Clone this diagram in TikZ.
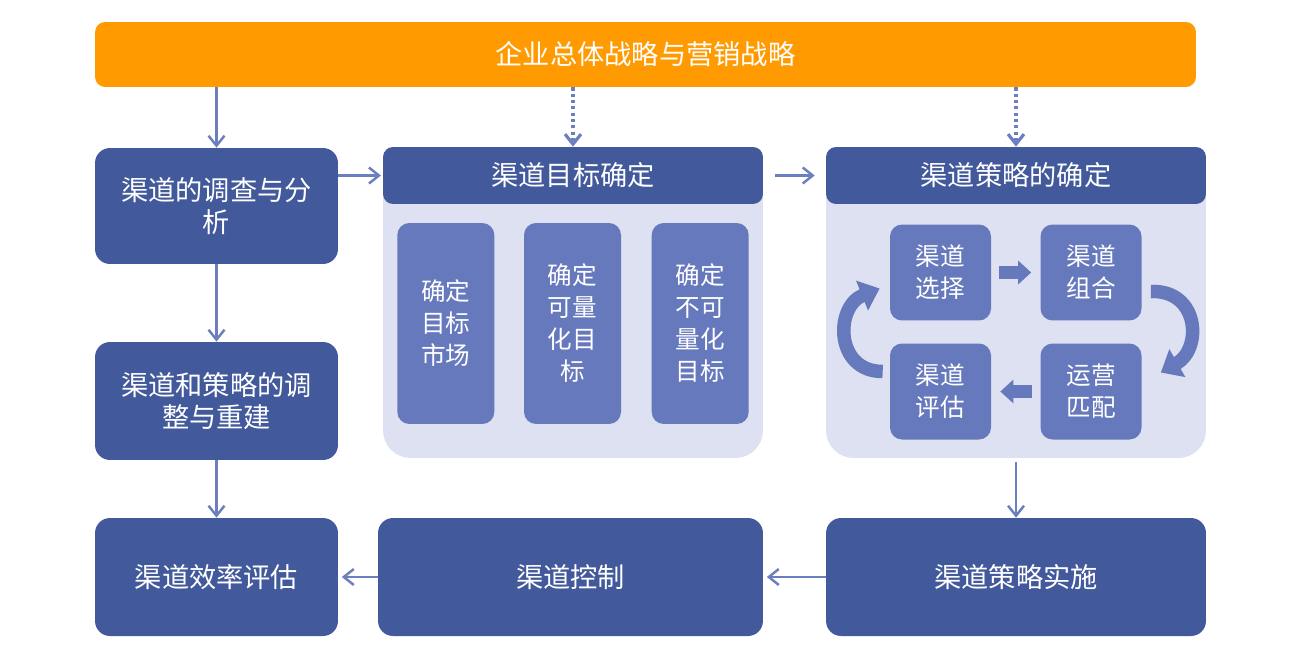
\documentclass[tikz,border=0pt]{standalone}
\usepackage{fontspec}
\newfontfamily\cjk{Noto Sans CJK SC}
\usetikzlibrary{positioning,calc,arrows.meta}

\definecolor{deepblue}{HTML}{42599B}
\definecolor{midblue}{HTML}{6679BC}
\definecolor{paleblue}{HTML}{DDE1F1}
\definecolor{lineblue}{HTML}{6B7EC0}
\definecolor{topamber}{HTML}{FF9A00}

\begin{document}
\begin{tikzpicture}[
  x=0.02cm, y=-0.02cm,
  font=\cjk\fontsize{15.5}{18}\selectfont,
  block/.style={
    rectangle, fill=deepblue, text=white, rounded corners=0.3cm,
    align=center, inner sep=2pt
  },
  headbar/.style={
    block, minimum width=7.6cm, minimum height=1.14cm, rounded corners=0.2cm
  },
  panel/.style={
    rectangle, fill=paleblue, rounded corners=0.55cm,
    minimum width=7.6cm, minimum height=6.22cm
  },
  goalbox/.style={
    rectangle, fill=midblue, text=white, rounded corners=0.24cm,
    minimum width=1.94cm, minimum height=4.02cm, align=center,
    font=\cjk\fontsize{14}{18.2}\selectfont
  },
  cyclebox/.style={
    goalbox, minimum width=2.02cm, minimum height=1.92cm
  },
  arr/.style={-{Straight Barb[length=0.2cm,width=0.32cm]}, line width=1.4pt, draw=lineblue},
  dotarr/.style={arr, line width=1.8pt, dash pattern=on 1.8pt off 1.8pt},
  fatarr/.style={-{Triangle[length=0.26cm,width=0.46cm]}, line width=0.26cm, draw=midblue},
  bendarr/.style={-{Triangle[length=0.38cm,width=0.62cm]}, line width=0.27cm, draw=midblue}
]
\useasboundingbox (0,0) rectangle (1300,656);

% top strategy bar
\node[block, fill=topamber, minimum width=22.02cm, minimum height=1.3cm,
  rounded corners=0.2cm] (strategy) at (645.5,54.5) {企业总体战略与营销战略};

% left column
\node[block, minimum width=4.86cm, minimum height=2.32cm] (survey) at (216.5,206)
  {渠道的调查与分\\析};
\node[block, minimum width=4.86cm, minimum height=2.36cm] (adjust) at (216.5,401)
  {渠道和策略的调\\整与重建};
\node[block, minimum width=4.86cm, minimum height=2.36cm] (effeval) at (216.5,577)
  {渠道效率评估};

% goal panel
\node[panel] (goalpanel) at (573,302.5) {};
\node[headbar] (goalhead) at (573,175.5) {渠道目标确定};
\node[goalbox] (quantgoal) at (572.5,323.5) {确定\\可量\\化目\\标};
\node[goalbox, left=0.58cm of quantgoal] (tgtmkt) {确定\\目标\\市场};
\node[goalbox, right=0.6cm of quantgoal] (qualgoal) {确定\\不可\\量化\\目标};

% strategy panel
\node[panel] (stratpanel) at (1016,302.5) {};
\node[headbar] (strathead) at (1016,175.5) {渠道策略的确定};
\node[cyclebox] (chsel) at (940.5,272.5) {渠道\\选择};
\node[cyclebox] (chmix) at (1091,272.5) {渠道\\组合};
\node[cyclebox] (opmatch) at (1091,391.5) {运营\\匹配};
\node[cyclebox] (cheval) at (940.5,391.5) {渠道\\评估};

% bottom row
\node[block, minimum width=7.7cm, minimum height=2.36cm] (control) at (570.5,577)
  {渠道控制};
\node[block, minimum width=7.6cm, minimum height=2.36cm] (implement) at (1016,577)
  {渠道策略实施};

% connectors
\draw[arr] (strategy.south -| survey) -- (survey.north);
\draw[dotarr] (strategy.south -| goalhead) -- (goalhead.north);
\draw[dotarr] (strategy.south -| strathead) -- (strathead.north);
\draw[arr, shorten >=1pt] (survey.east |- goalhead) -- (goalhead.west);
\draw[arr, shorten <=0.24cm, shorten >=0.22cm] (goalhead.east) -- (strathead.west);
\draw[arr] (survey) -- (adjust);
\draw[arr] (adjust) -- (effeval);
\draw[arr, shorten <=2pt] (stratpanel.south) -- (implement.north);
\draw[arr, shorten >=2pt] (implement.west) -- (control.east);
\draw[arr, shorten >=2pt] (control.west) -- (effeval.east);

% cycle arrows
\draw[fatarr, shorten <=0.16cm, shorten >=0.18cm] (chsel) -- (chmix);
\draw[fatarr, shorten <=0.16cm, shorten >=0.18cm] (opmatch) -- (cheval);
\draw[bendarr] ([shift={(9,19)}]chmix.east) .. controls +(48,-2) and +(42,-24) ..
  ([shift={(19,-19)}]opmatch.east);
\draw[bendarr] ([shift={(-7,-20)}]cheval.west) .. controls +(-48,0) and +(-45,18) ..
  ([shift={(-10,16)}]chsel.west);

\end{tikzpicture}
\end{document}
